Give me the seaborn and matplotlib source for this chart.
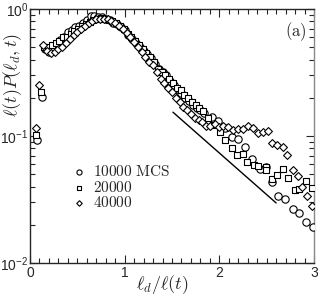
import numpy as np
import pandas as pd
import matplotlib
matplotlib.use('Agg')
import matplotlib.pyplot as plt
import seaborn as sns
from matplotlib.ticker import MultipleLocator, LogLocator, NullFormatter

# dados
x_10000 = [0.07, 0.13, 0.16, 0.20, 0.24, 0.28, 0.32, 0.36, 0.40, 0.44, 0.48, 0.52, 0.56, 0.60,
           0.64, 0.68, 0.72, 0.76, 0.80, 0.84, 0.88, 0.92, 0.96, 1.00, 1.04, 1.08, 1.12, 1.16,
           1.20, 1.24, 1.28, 1.32, 1.36, 1.40, 1.44, 1.48, 1.52, 1.56, 1.60, 1.64, 1.68, 1.72,
           1.76, 1.80, 1.84, 1.92, 1.99, 2.06, 2.13, 2.20, 2.27, 2.34, 2.43, 2.49, 2.56, 2.62,
           2.69, 2.78, 2.84, 2.92, 2.99]
y_10000 = [0.093, 0.203, 0.48, 0.46, 0.49, 0.52, 0.57, 0.60, 0.66, 0.68, 0.72, 0.74, 0.78, 0.82,
           0.88, 0.88, 0.87, 0.86, 0.84, 0.82, 0.78, 0.76, 0.72, 0.68, 0.62, 0.58, 0.54, 0.50,
           0.47, 0.44, 0.41, 0.37, 0.34, 0.32, 0.30, 0.27, 0.25, 0.23, 0.22, 0.20, 0.19, 0.175,
           0.165, 0.16, 0.152, 0.141, 0.131, 0.115, 0.098, 0.095, 0.082, 0.066, 0.055, 0.057, 0.0435, 0.034,
           0.032, 0.0266, 0.0247, 0.021, 0.0193]

x_20000 = [0.063, 0.116, 0.15, 0.19, 0.23, 0.27, 0.31, 0.35, 0.39, 0.43, 0.47, 0.51, 0.55, 0.59,
           0.63, 0.67, 0.71, 0.75, 0.79, 0.83, 0.87, 0.91, 0.95, 0.99, 1.03, 1.07, 1.11, 1.15,
           1.19, 1.23, 1.27, 1.31, 1.35, 1.39, 1.43, 1.47, 1.51, 1.55, 1.59, 1.63, 1.67, 1.71,
           1.75, 1.79, 1.83, 1.88, 1.93, 2.01, 2.06, 2.13, 2.19, 2.25, 2.29, 2.37, 2.41, 2.49,
           2.49, 2.56, 2.61, 2.67, 2.73, 2.80, 2.84, 2.92, 2.98]
y_20000 = [0.102, 0.222, 0.50, 0.50, 0.52, 0.54, 0.56, 0.60, 0.60, 0.63, 0.67, 0.70, 0.74, 0.76,
           0.79, 0.82, 0.84, 0.85, 0.84, 0.82, 0.80, 0.77, 0.73, 0.70, 0.64, 0.60, 0.56, 0.52,
           0.48, 0.45, 0.42, 0.38, 0.34, 0.32, 0.30, 0.28, 0.26, 0.24, 0.23, 0.21, 0.20, 0.185,
           0.175, 0.165, 0.158, 0.138, 0.122, 0.107, 0.093, 0.081, 0.071, 0.072, 0.062, 0.059, 0.058, 0.057,
           0.054, 0.046, 0.049, 0.055, 0.047, 0.0377, 0.038, 0.044, 0.039]

x_40000 = [0.063, 0.095, 0.14, 0.18, 0.22, 0.26, 0.30, 0.34, 0.38, 0.42, 0.46, 0.50, 0.54, 0.58,
           0.62, 0.66, 0.70, 0.74, 0.78, 0.82, 0.86, 0.90, 0.94, 0.98, 1.02, 1.06, 1.10, 1.14,
           1.18, 1.22, 1.26, 1.30, 1.34, 1.38, 1.42, 1.46, 1.50, 1.54, 1.58, 1.62, 1.66, 1.70,
           1.74, 1.78, 1.82, 1.86, 1.90, 1.95, 2.00, 2.04, 2.09, 2.14, 2.20, 2.25, 2.30, 2.36,
           2.41, 2.46, 2.51, 2.56, 2.61, 2.67, 2.71, 2.78, 2.83, 2.87, 2.93, 2.98]
y_40000 = [0.116, 0.252, 0.52, 0.47, 0.45, 0.46, 0.48, 0.50, 0.54, 0.58, 0.62, 0.66, 0.70, 0.74,
           0.78, 0.80, 0.83, 0.84, 0.84, 0.83, 0.80, 0.78, 0.74, 0.70, 0.65, 0.60, 0.55, 0.50,
           0.46, 0.42, 0.38, 0.36, 0.32, 0.28, 0.26, 0.24, 0.222, 0.20, 0.185, 0.17, 0.16, 0.148,
           0.138, 0.133, 0.129, 0.12, 0.12, 0.125, 0.118, 0.12, 0.118, 0.112, 0.114, 0.114, 0.120, 0.116,
           0.106, 0.107, 0.109, 0.088, 0.085, 0.082, 0.071, 0.054, 0.048, 0.040, 0.034, 0.028]

# reta guia
line_x = [1.51, 2.60]
line_y = [0.154, 0.0297]

sns.set_style('ticks')
plt.rcParams['font.family'] = ['Liberation Sans', 'DejaVu Sans']
plt.rcParams['mathtext.fontset'] = 'cm'

fig = plt.figure(figsize=(3.18, 2.96), dpi=100)
ax = fig.add_axes([30/318, 33/296, 284/318, 254/296])

series = [(x_10000, y_10000, 'o', 28, '$\\mathsf{10000}\\ \\mathrm{MCS}$'),
          (x_20000, y_20000, 's', 22, '$\\mathsf{20000}$'),
          (x_40000, y_40000, 'D', 16, '$\\mathsf{40000}$')]
for xs, ys, mk, sz, lab in series:
    sns.scatterplot(x=xs, y=ys, marker=mk, s=sz, color='white', edgecolor='black',
                    linewidth=0.8, label=lab, ax=ax, zorder=3)

sns.lineplot(x=line_x, y=line_y, color='black', linewidth=1.0, ax=ax)

ax.set_yscale('log')
ax.set_xlim(0, 3)
ax.set_ylim(0.01, 1)
ax.xaxis.set_major_locator(MultipleLocator(1))
ax.xaxis.set_minor_locator(MultipleLocator(0.1))
ax.yaxis.set_minor_locator(LogLocator(base=10, subs=np.arange(2, 10)))
ax.yaxis.set_minor_formatter(NullFormatter())
ax.set_yticks([0.01, 0.1, 1])
ax.set_yticklabels(['$\\mathregular{10^{-2}}$', '$\\mathregular{10^{-1}}$', '$\\mathregular{10^{0}}$'])
ax.set_xticks([0, 1, 2, 3])
ax.set_xticklabels(['0', '1', '2', '3'])
ax.tick_params(which='both', direction='in', top=True, right=True, labelsize=10)
ax.tick_params(axis='y', pad=1)
ax.tick_params(axis='x', pad=2)
ax.tick_params(which='major', length=6, width=0.8)
ax.tick_params(which='minor', length=3.5, width=0.8)
for s in ax.spines.values():
    s.set_linewidth(1.0)
ax.spines['right'].set_color('#888888')

ax.set_xlabel('$\\ell_d/\\ell(t)$', fontsize=13, va='center')
ax.xaxis.set_label_coords(0.465, -0.083)
ax.set_ylabel('$\\ell(t)P(\\ell_d,t)$', fontsize=13, va='center')
ax.yaxis.set_label_coords(-0.06, 0.74)
ax.text(0.935, 0.91, '$\\mathrm{(a)}$', transform=ax.transAxes, fontsize=12,
        ha='center', va='center')

ax.legend(loc='upper left', bbox_to_anchor=(0.115, 0.42), frameon=False, fontsize=11,
          handletextpad=0.3, labelspacing=0.05, borderpad=0, markerscale=0.7, handlelength=1.2)

plt.savefig('out.png', dpi=100)
